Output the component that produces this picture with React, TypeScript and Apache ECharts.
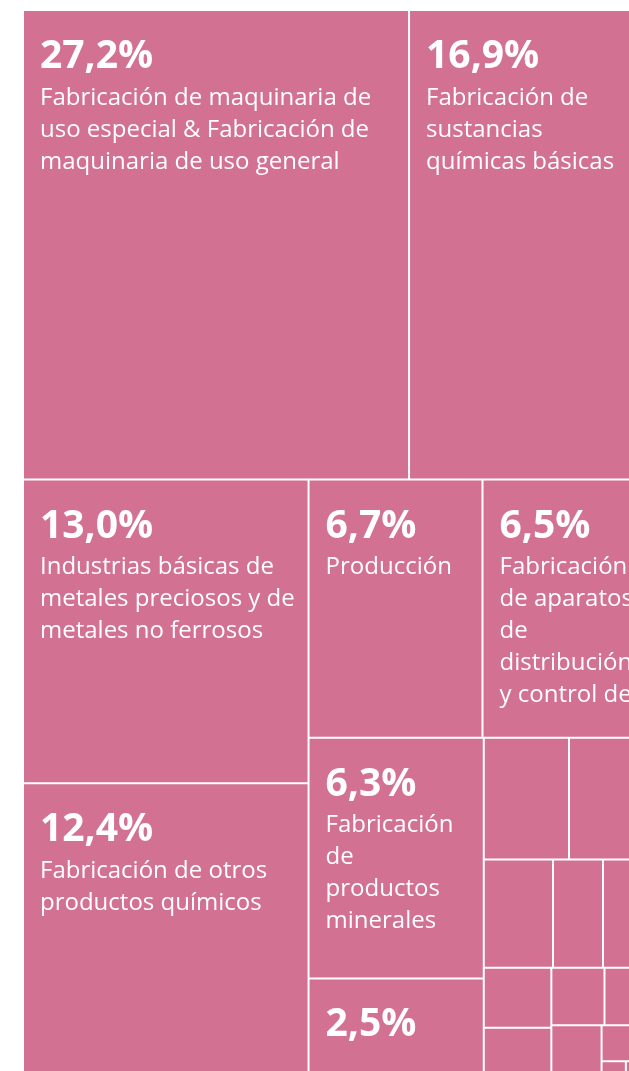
import React, { useEffect, useRef } from 'react';
import * as echarts from 'echarts';

// Sector names (largest first)
const sectors: string[] = [
  'Fabricación de maquinaria de uso especial & Fabricación de maquinaria de uso general',
  'Fabricación de sustancias químicas básicas',
  'Industrias básicas de metales preciosos y de metales no ferrosos',
  'Fabricación de otros productos químicos',
  'Producción',
  'Fabricación de aparatos de distribución y control de la energía eléctrica',
  'Fabricación de productos minerales no metálicos',
  'Fabricación de productos de caucho',
  'Fabricación de productos metálicos',
  'Fabricación de motores y turbinas',
  'Fabricación de productos de plástico',
  'Fabricación de equipo eléctrico',
  'Fabricación de vidrio',
  'Fabricación de instrumentos',
  'Fabricación de papel',
  'Fabricación de muebles',
  'Fabricación de textiles',
  'Fabricación de hilos y cables',
  'Fabricación de baterías',
  'Fabricación de lámparas',
  'Otras industrias manufactureras',
];

// Share of total (%)
const shares: number[] = [
  27.24, 16.93, 13.03, 12.44, 6.749, 6.46, 6.34, 2.49,
  1.561, 1.465, 1.125, 0.813, 0.748, 0.609, 0.46, 0.46, 0.385, 0.36, 0.256, 0.043, 0.041,
];

const PINK = '#d27192';
const LABEL_MIN = 2;
const FONT = 'Open Sans';
const NAME_SIZE = 24;
const PCT_SIZE = 39;
const PAD = [15, 12, 15, 16];

const fmt = (v: number) => v.toFixed(1).replace('.', ',');

let measureSpan: HTMLSpanElement | null = null;
function textWidth(text: string, size: number): number {
  if (!measureSpan) {
    measureSpan = document.createElement('span');
    measureSpan.style.position = 'absolute';
    measureSpan.style.visibility = 'hidden';
    measureSpan.style.whiteSpace = 'pre';
    measureSpan.style.left = '-9999px';
    measureSpan.style.top = '0';
    document.body.appendChild(measureSpan);
  }
  measureSpan.style.font = `${size}px "${FONT}"`;
  measureSpan.textContent = text;
  return measureSpan.getBoundingClientRect().width;
}

function wrap(text: string, maxWidth: number, size: number): string[] {
  const words = text.split(' ');
  const lines: string[] = [];
  let line = '';
  for (const w of words) {
    const candidate = line ? line + ' ' + w : w;
    if (!line || textWidth(candidate, size) <= maxWidth) {
      line = candidate;
    } else {
      lines.push(line);
      line = w;
    }
  }
  if (line) lines.push(line);
  return lines;
}

export default function App() {
  const ref = useRef<HTMLDivElement>(null);
  useEffect(() => {
    const chart = echarts.init(ref.current!, null, { renderer: 'svg' });
    const data = sectors.map((name, i) => ({ name, value: shares[i] }));

    const cellWidth = (dataIndex: number): number => {
      try {
        const layout = (chart as any)
          .getModel()
          .getSeriesByIndex(0)
          .getData()
          .getItemLayout(dataIndex);
        if (layout && layout.width) return layout.width - 2 * (layout.borderWidth || 1);
      } catch (e) {
        /* ignore */
      }
      return 200;
    };

    chart.setOption({
      animation: false,
      textStyle: { fontFamily: FONT },
      series: [
        {
          type: 'treemap',
          left: 23,
          top: 10,
          width: 626,
          height: 1063,
          roam: false,
          nodeClick: false,
          breadcrumb: { show: false },
          sort: 'desc',
          visibleMin: 1,
          levels: [
            { itemStyle: { borderWidth: 0, gapWidth: 0, borderColor: '#fff' } },
            { itemStyle: { borderWidth: 1, gapWidth: 0, borderColor: '#fff', color: PINK } },
          ],
          itemStyle: { color: PINK, borderColor: '#fff' },
          label: {
            show: true,
            position: 'insideTopLeft',
            padding: PAD,
            overflow: 'none',
            color: '#fff',
            formatter: (p: any) => {
              if (p.value < LABEL_MIN) return '';
              const avail = cellWidth(p.dataIndex) - PAD[1] - PAD[3];
              const lines = wrap(p.name, avail, NAME_SIZE);
              return [`{pct|${fmt(p.value)}%}`, ...lines.map((l) => `{name|${l}}`)].join('\n');
            },
            rich: {
              pct: { fontSize: PCT_SIZE, fontWeight: 700, lineHeight: 53, color: '#fff', fontFamily: FONT },
              name: { fontSize: NAME_SIZE, lineHeight: 32, color: '#fff', fontFamily: FONT },
            },
          },
          data,
        },
      ],
    });
    return () => chart.dispose();
  }, []);
  return (
    <div
      ref={ref}
      style={{ position: 'fixed', left: 0, top: 0, width: 629, height: 1071 }}
    />
  );
}
